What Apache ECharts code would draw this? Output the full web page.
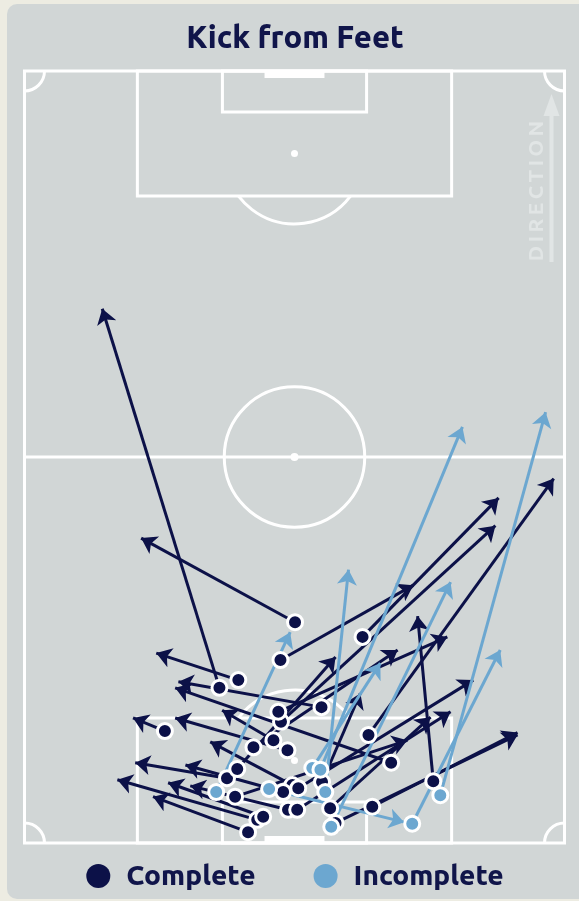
<!DOCTYPE html>
<html>
<head>
<meta charset="utf-8">
<script src="https://cdn.jsdelivr.net/npm/echarts@6/dist/echarts.min.js"></script>
<style>
  html, body { margin: 0; padding: 0; width: 579px; height: 901px; background: #EDECE2; overflow: hidden; }
  #card { position: absolute; left: 7px; top: 4px; width: 640px; height: 895px; border-radius: 10px; background: #D1D6D6; }
  #chart { position: absolute; left: 0; top: 0; width: 590px; height: 901px; }
</style>
</head>
<body>
<div id="card"></div>
<div id="chart"></div>
<script>
// Pass coordinates on a 0–100 pitch: x across the width, y along the length
// (0 = own goal line, 100 = opponent goal line). Each row: [startX, startY, endX, endY].
const completePasses = [
  [50.1, 28.6, 21.6, 39.5],
  [36.1, 20.1, 14.4, 69.2],
  [39.6, 21.1, 24.4, 24.6],
  [47.4, 23.7, 72.0, 33.4],
  [62.6, 26.7, 87.8, 44.7],
  [47.5, 15.7, 87.2, 41.1],
  [63.7, 14.0, 98.0, 47.2],
  [75.7,  8.0, 72.8, 29.4],
  [26.0, 14.5, 20.1, 16.2],
  [47.0, 17.0, 78.3, 26.7],
  [55.0, 17.6, 28.5, 20.9],
  [67.9, 10.4, 27.9, 20.1],
  [48.7, 12.0, 27.9, 16.2],
  [46.1, 13.3, 36.6, 17.2],
  [49.6,  7.5, 34.4, 13.1],
  [37.5,  8.4, 20.5, 10.4],
  [47.9,  6.6, 29.8, 10.1],
  [43.1,  3.0, 17.2,  8.2],
  [44.2,  3.4, 26.6,  7.8],
  [41.4,  1.4, 23.8,  6.0],
  [48.8,  4.3, 30.7,  7.4],
  [42.4, 12.4, 69.1, 25.0],
  [39.4,  9.6, 57.6, 24.1],
  [50.7,  7.1, 83.1, 21.1],
  [55.1,  7.9, 62.2, 19.4],
  [50.5,  4.3, 78.9, 17.0],
  [56.6,  4.5, 75.2, 16.3],
  [39.0,  6.0, 70.9, 13.3],
  [57.6,  2.6, 91.3, 14.0],
  [64.4,  4.7, 91.3, 14.3]
];

const incompletePasses = [
  [35.5,  6.6, 49.2, 27.3],
  [45.3,  7.0, 70.3,  2.7],
  [53.3,  9.7, 65.9, 23.3],
  [54.8,  9.5, 81.1, 53.9],
  [55.7,  6.6, 60.0, 35.4],
  [56.8,  2.1, 78.9, 33.8],
  [71.8,  2.5, 88.1, 25.0],
  [77.0,  6.2, 96.5, 55.8]
];

const outcomeNames = ['Complete', 'Incomplete'];
const titleText = 'Kick from Feet';
const directionLabel = 'DIRECTION';

const NAVY = '#0C1148';
const SKY = '#6CA7D0';
const INK = '#10154A';
const FONT = 'Ubuntu, "Open Sans", "Noto Sans", sans-serif';

// Pitch markings in the same 0–100 units
const PITCH = {
  boxHalf: 29.1, boxDepth: 16.2,
  sixHalf: 13.35, sixDepth: 5.3,
  goalHalf: 5.55, goalDepth: 0.9,
  spot: 10.7, circleR: 9.1
};

function renderPitch(params, api) {
  const P = (x, y) => api.coord([x, y]);
  const [xl, yb] = P(0, 0);
  const [xr, yt] = P(100, 100);
  const sy = (yb - yt) / 100;
  const line = { stroke: '#FFFFFF', lineWidth: 3, fill: 'none' };
  const solid = { fill: '#FFFFFF' };
  const kids = [];

  kids.push({ type: 'rect', shape: { x: xl, y: yt, width: xr - xl, height: yb - yt }, style: line });
  const mid = P(50, 50);
  kids.push({ type: 'line', shape: { x1: xl, y1: mid[1], x2: xr, y2: mid[1] }, style: line });
  kids.push({ type: 'circle', shape: { cx: mid[0], cy: mid[1], r: PITCH.circleR * sy }, style: line });
  kids.push({ type: 'circle', shape: { cx: mid[0], cy: mid[1], r: 4 }, style: solid });

  [[0, 1], [100, -1]].forEach(([edge, dir]) => {
    const box = (half, depth) => {
      const a = P(50 - half, edge), b = P(50 + half, edge + dir * depth);
      return { x: Math.min(a[0], b[0]), y: Math.min(a[1], b[1]),
               width: Math.abs(b[0] - a[0]), height: Math.abs(b[1] - a[1]) };
    };
    kids.push({ type: 'rect', shape: box(PITCH.boxHalf, PITCH.boxDepth), style: line });
    kids.push({ type: 'rect', shape: box(PITCH.sixHalf, PITCH.sixDepth), style: line });
    kids.push({ type: 'rect', shape: box(PITCH.goalHalf, PITCH.goalDepth), style: solid });
    const sp = P(50, edge + dir * PITCH.spot);
    kids.push({ type: 'circle', shape: { cx: sp[0], cy: sp[1], r: 3.5 }, style: solid });
    const r = PITCH.circleR * sy;
    const a = Math.asin(Math.min(1, (PITCH.boxDepth - PITCH.spot) * sy / r));
    const arc = dir === 1
      ? { startAngle: Math.PI + a, endAngle: 2 * Math.PI - a }
      : { startAngle: a, endAngle: Math.PI - a };
    kids.push({ type: 'arc', shape: Object.assign({ cx: sp[0], cy: sp[1], r, clockwise: true }, arc), style: line });
  });

  const cr = 20;
  [
    [xl, yb, -Math.PI / 2, 0],
    [xr, yb, Math.PI, 1.5 * Math.PI],
    [xl, yt, 0, Math.PI / 2],
    [xr, yt, Math.PI / 2, Math.PI]
  ].forEach(([cx, cy, s, e]) => {
    kids.push({ type: 'arc', shape: { cx, cy, r: cr, startAngle: s, endAngle: e, clockwise: true }, style: line });
  });

  // attacking direction marker
  const faint = '#E1E5E5';
  const ax = xr - 13;
  kids.push({ type: 'rect', shape: { x: ax - 2, y: yt + 40, width: 4, height: 151 }, style: { fill: faint } });
  kids.push({ type: 'polygon', shape: { points: [[ax, yt + 23], [ax - 8, yt + 45], [ax + 8, yt + 45]] }, style: { fill: faint } });
  kids.push({
    type: 'text', x: xr - 28, y: yt + 120, rotation: Math.PI / 2,
    style: { text: directionLabel.split('').join('\u2009'), fill: faint, font: 'bold 21px ' + FONT,
             align: 'center', verticalAlign: 'middle' }
  });

  return { type: 'group', children: kids };
}

function passLines(name, passes, color) {
  return {
    type: 'lines', name, coordinateSystem: 'cartesian2d', z: 3, silent: true,
    symbol: ['none', 'arrow'], symbolSize: 15,
    lineStyle: { color, width: 3, opacity: 1, curveness: 0 },
    data: passes.map(p => ({ coords: [[p[0], p[1]], [p[2], p[3]]] }))
  };
}

function passStarts(name, passes, color) {
  return {
    type: 'scatter', name, z: 4, symbol: 'circle', symbolSize: 15,
    itemStyle: { color, borderColor: '#FFFFFF', borderWidth: 3, opacity: 1 },
    data: passes.map(p => [p[0], p[1]])
  };
}

const chart = echarts.init(document.getElementById('chart'), null, { renderer: 'canvas' });
chart.setOption({
  animation: false,
  backgroundColor: 'transparent',
  title: {
    text: titleText, left: 'center', top: 17,
    textStyle: { color: INK, fontSize: 31, fontWeight: 800, fontFamily: FONT }
  },
  legend: {
    data: [
      { name: outcomeNames[0], itemStyle: { color: NAVY, borderWidth: 0 } },
      { name: outcomeNames[1], itemStyle: { color: SKY, borderWidth: 0 } }
    ],
    left: 'center', top: 857, icon: 'circle',
    itemWidth: 24, itemHeight: 24, itemGap: 58,
    textStyle: { color: INK, fontSize: 28, fontWeight: 800, fontFamily: FONT, padding: [0, 0, 0, 11] }
  },
  grid: { left: 24.5, right: 25.5, top: 71, bottom: 58 },
  xAxis: { type: 'value', min: 0, max: 100, show: false },
  yAxis: { type: 'value', min: 0, max: 100, show: false },
  series: [
    { type: 'custom', name: 'pitch', silent: true, z: 1, data: [[0, 0]], renderItem: renderPitch },
    passLines(outcomeNames[0], completePasses, NAVY),
    passLines(outcomeNames[1], incompletePasses, SKY),
    passStarts(outcomeNames[0], completePasses, NAVY),
    passStarts(outcomeNames[1], incompletePasses, SKY)
  ]
});
</script>
</body>
</html>
